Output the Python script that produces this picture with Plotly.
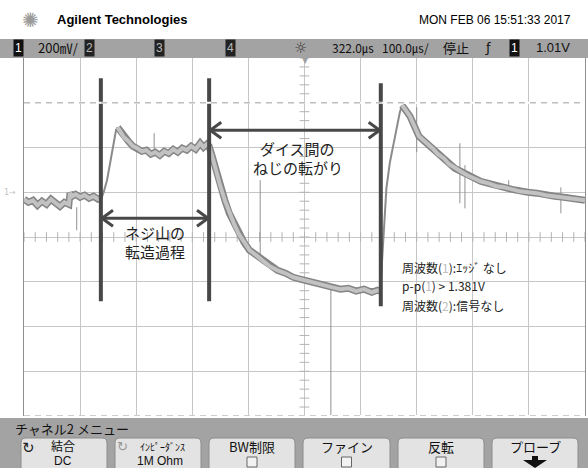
import numpy as np
import plotly.graph_objects as go

# ---------------- data (time in µs, ch1 voltage in V; 200 mV/div, 100 µs/div) ----------------
time_range = [-178, 822]
volt_range = [-1.0, 0.6]
time_tick0 = 22
time_per_div = 100
volt_per_div = 0.2
center_time = 322
center_volt = -0.2

base_t = [-178, -170, -162, -154, -146, -138, -130, -122, -114, -106, -98, -96, -92, -86, -78, -70, -62, -54, -46, -40]
base_v = [-0.031, -0.045, -0.036, -0.058, -0.040, -0.054, -0.031, -0.049, -0.063, -0.045, -0.054, -0.004, -0.018,
          -0.009, -0.022, -0.013, -0.027, -0.018, -0.031, -0.027]

rise1_t = [-40, -36, -30, -24, -18, -14, -11]
rise1_v = [-0.027, 0.000, 0.054, 0.143, 0.232, 0.277, 0.290]

mid_t = [-11, -6, 0, 8, 16, 24, 32, 40, 48, 56, 64, 72, 80, 88, 96, 104, 112, 120, 128, 136, 142, 148, 152, 158,
         164, 172, 180, 188, 196, 204, 214, 224, 236, 248, 260, 274, 288, 302, 316, 330, 344, 358, 372, 386, 400,
         414, 428, 442, 452, 457]
mid_v = [0.290, 0.273, 0.246, 0.228, 0.206, 0.197, 0.183, 0.188, 0.170, 0.179, 0.165, 0.183, 0.174, 0.192, 0.179,
         0.197, 0.188, 0.206, 0.192, 0.219, 0.201, 0.215, 0.206, 0.156, 0.098, 0.027, -0.036, -0.094, -0.139,
         -0.183, -0.223, -0.259, -0.282, -0.308, -0.331, -0.349, -0.362, -0.380, -0.389, -0.398, -0.411, -0.416,
         -0.425, -0.433, -0.429, -0.442, -0.433, -0.447, -0.438, -0.442]

rise2_t = [457, 460, 464, 468, 474, 480, 486, 492, 496]
rise2_v = [-0.442, -0.313, -0.103, 0.018, 0.130, 0.210, 0.295, 0.358, 0.389]

decay_t = [496, 502, 510, 518, 526, 534, 542, 550, 560, 570, 580, 590, 600, 612, 624, 636, 650, 664, 678, 692,
           706, 720, 736, 752, 768, 784, 800, 812, 822]
decay_v = [0.389, 0.366, 0.340, 0.295, 0.250, 0.232, 0.215, 0.197, 0.170, 0.152, 0.125, 0.107, 0.094, 0.076,
           0.063, 0.049, 0.040, 0.027, 0.022, 0.013, 0.004, 0.000, -0.004, -0.013, -0.018, -0.022, -0.027,
           -0.031, -0.036]

spike_t = [-84, 54, 243, 369, 522, 599, 608, 686, 779]
spike_hi = [-0.067, 0.264, 0.054, -0.416, 0.380, 0.219, 0.121, 0.054, 0.022]
spike_lo = [-0.170, 0.188, -0.295, -1.0, 0.179, -0.049, -0.072, 0.018, -0.094]

marker_t = [-41, 152, 458]
marker_top = [0.509, 0.509, 0.487]
marker_bottom = [-0.487, -0.487, -0.509]

arrow_from = [-41, 152]
arrow_to = [152, 458]
arrow_v = [-0.116, 0.277]

label1_lines = ["ネジ山の", "転造過程"]
label1_t = 55
label1_v = [-0.179, -0.264]
label2_lines = ["ダイス間の", "ねじの転がり"]
label2_t = 310
label2_v = [0.197, 0.112]

measure_lines = ["周波数(<span style='color:#c0c0c0'>1</span>):ｴｯｼﾞ なし",
                 "p-p(<span style='color:#c0c0c0'>1</span>) > 1.381V",
                 "周波数(<span style='color:#c0c0c0'>2</span>):信号なし"]
measure_t = 492
measure_v = [-0.335, -0.416, -0.505]

header_title = "Agilent Technologies"
header_date = "MON FEB 06 15:51:33 2017"
status_items = ["200㎷/", "322.0㎲", "100.0㎲/", "停止", "ƒ", "1.01V"]
menu_title = "チャネル2 メニュー"
button_top = ["結合", "ｲﾝﾋﾟｰﾀﾞﾝｽ", "BW制限", "ファイン", "反転", "プローブ"]
button_bottom = ["DC", "1M Ohm", "", "", "", ""]

# ---------------- styling helpers ----------------
JP = "Noto Sans CJK JP, Noto Sans, sans-serif"
SANS = "Liberation Sans, Arial, sans-serif"
W, H = 588, 468
L, R, T, B = 24, 3, 58, 52
PW, PH = W - L - R, H - T - B


def X(px):
    return (px - L) / PW


def Y(py):
    return (H - B - py) / PH


fig = go.Figure()

# center graticule ticks (derived from axis scale)
ht = np.arange(time_range[0], time_range[1] + 0.1, time_per_div / 5)
vt = np.arange(volt_range[0], volt_range[1] + 0.001, volt_per_div / 5)
fig.add_trace(go.Scatter(x=ht, y=[center_volt] * len(ht), mode="markers",
                         marker=dict(symbol="line-ns", size=7, line=dict(color="#b4b4b4", width=1)),
                         hoverinfo="skip"))
fig.add_trace(go.Scatter(x=[center_time] * len(vt), y=vt, mode="markers",
                         marker=dict(symbol="line-ew", size=7, line=dict(color="#b4b4b4", width=1)),
                         hoverinfo="skip"))


def join(*segs):
    xs, ys = [], []
    for sx, sy in segs:
        xs += list(sx) + [None]
        ys += list(sy) + [None]
    return xs, ys


# glitch spikes
sx, sy = join(*[([t, t], [a, b]) for t, a, b in zip(spike_t, spike_hi, spike_lo)])
fig.add_trace(go.Scatter(x=sx, y=sy, mode="lines", line=dict(color="#909090", width=1), hoverinfo="skip"))

# thin rising edges
rx, ry = join((rise1_t, rise1_v), (rise2_t, rise2_v))
fig.add_trace(go.Scatter(x=rx, y=ry, mode="lines", line=dict(color="#8a8a8a", width=2), hoverinfo="skip"))

# noisy band
bx, by = join((base_t, base_v), (mid_t, mid_v), (decay_t, decay_v))
fig.add_trace(go.Scatter(x=bx, y=by, mode="lines", line=dict(color="#858585", width=7), hoverinfo="skip"))
fig.add_trace(go.Scatter(x=bx, y=by, mode="lines", line=dict(color="#c2c2c2", width=4), hoverinfo="skip"))

# annotation marker lines and arrow shafts
mx, my = join(*[([t, t], [a, b]) for t, a, b in zip(marker_t, marker_top, marker_bottom)])
fig.add_trace(go.Scatter(x=mx, y=my, mode="lines", line=dict(color="#484848", width=4), hoverinfo="skip"))
ax_, ay_ = join(*[([a, b], [v, v]) for a, b, v in zip(arrow_from, arrow_to, arrow_v)])
fig.add_trace(go.Scatter(x=ax_, y=ay_, mode="lines", line=dict(color="#484848", width=3), hoverinfo="skip"))

shapes = []
for a, b, v in zip(arrow_from, arrow_to, arrow_v):
    shapes.append(dict(type="path", xsizemode="pixel", ysizemode="pixel", xanchor=a + 2, yanchor=v,
                       xref="x", yref="y", path="M 11,8 L 0,0 L 11,-8",
                       line=dict(color="#484848", width=3)))
    shapes.append(dict(type="path", xsizemode="pixel", ysizemode="pixel", xanchor=b - 2, yanchor=v,
                       xref="x", yref="y", path="M -11,8 L 0,0 L -11,-8",
                       line=dict(color="#484848", width=3)))

# dashed level line at 0.4 V and bottom dashed border
for lv in [0.4, volt_range[0]]:
    shapes.append(dict(type="line", xref="paper", yref="y", x0=0, x1=1, y0=lv, y1=lv,
                       line=dict(color="white", width=2)))
    shapes.append(dict(type="line", xref="paper", yref="y", x0=0, x1=1, y0=lv, y1=lv,
                       line=dict(color="#bdbdbd", width=1.5, dash="6px,5px")))

# top status bar and bottom menu area
shapes.append(dict(type="rect", xref="paper", yref="paper", x0=X(0), x1=X(W), y0=Y(58), y1=Y(39),
                   fillcolor="#a3a3a3", line=dict(width=0), layer="above"))
shapes.append(dict(type="rect", xref="paper", yref="paper", x0=X(0), x1=X(W), y0=Y(H + 2), y1=Y(418),
                   fillcolor="#a3a3a3", line=dict(width=0), layer="above"))


def rrect(x0, y0, x1, y1, r=5):
    p = (f"M {X(x0 + r)},{Y(y0)} L {X(x1 - r)},{Y(y0)} Q {X(x1)},{Y(y0)} {X(x1)},{Y(y0 + r)} "
         f"L {X(x1)},{Y(y1 - r)} Q {X(x1)},{Y(y1)} {X(x1 - r)},{Y(y1)} L {X(x0 + r)},{Y(y1)} "
         f"Q {X(x0)},{Y(y1)} {X(x0)},{Y(y1 - r)} L {X(x0)},{Y(y0 + r)} Q {X(x0)},{Y(y0)} {X(x0 + r)},{Y(y0)} Z")
    return p


buttons = [(21, 107), (115, 201), (209, 295), (303, 390), (398, 484), (492, 578)]
for x0, x1 in buttons:
    shapes.append(dict(type="path", xref="paper", yref="paper", path=rrect(x0, 438, x1, 478),
                       fillcolor="#e3e3e3", line=dict(color="#8c8c8c", width=1), layer="above"))
for i in [2, 3, 4]:
    cx = sum(buttons[i]) / 2
    shapes.append(dict(type="rect", xref="paper", yref="paper", x0=X(cx - 5), x1=X(cx + 5), y0=Y(467),
                       y1=Y(457), fillcolor="#f2f2f2", line=dict(color="#666666", width=1), layer="above"))
# probe button down-arrow
cx6 = sum(buttons[5]) / 2
shapes.append(dict(type="path", xref="paper", yref="paper", layer="above",
                   path=(f"M {X(cx6 - 3)},{Y(456)} L {X(cx6 + 3)},{Y(456)} L {X(cx6 + 3)},{Y(460)} "
                         f"L {X(cx6 + 12)},{Y(460)} L {X(cx6)},{Y(468)} L {X(cx6 - 12)},{Y(460)} "
                         f"L {X(cx6 - 3)},{Y(460)} Z"),
                   fillcolor="#111111", line=dict(width=0)))

anns = []


def ann(text, px, py, size=12, color="black", xanchor="center", family=JP, bg=None, pad=0, ref="paper"):
    d = dict(text=text, x=X(px) if ref == "paper" else px, y=Y(py) if ref == "paper" else py,
             xref=ref, yref=ref, showarrow=False, xanchor=xanchor, yanchor="middle",
             font=dict(size=size, color=color, family=family))
    if bg:
        d.update(bgcolor=bg, borderpad=pad)
    anns.append(d)


# header
ann("✺", 30, 20, size=20, color="#9a9a9a", family="DejaVu Sans")
ann(f"<b>{header_title}</b>", 55, 20, size=13, xanchor="left", family=SANS)
ann(header_date, 573, 20, size=12, xanchor="right", family=SANS)

# status bar
ann("1", 18, 48, size=12, color="white", bg="#111111", pad=1, family=SANS)
ann(status_items[0], 58, 48, size=13, color="#111", family=JP)
ann("2", 89, 48, size=12, color="#bbbbbb", bg="#222222", pad=1, family=SANS)
ann("3", 159, 48, size=12, color="#bbbbbb", bg="#222222", pad=1, family=SANS)
ann("4", 230, 48, size=12, color="#bbbbbb", bg="#222222", pad=1, family=SANS)
ann("☼", 300, 48, size=15, color="#333", family="DejaVu Sans")
ann(status_items[1], 353, 48, size=12, color="#111", family=JP)
ann(status_items[2], 405, 48, size=12, color="#111", family=JP)
ann(status_items[3], 456, 48, size=13, color="#111", family=JP)
ann(status_items[4], 488, 48, size=13, color="#111", family="DejaVu Sans")
ann("1", 514, 48, size=12, color="white", bg="#111111", pad=1, family=SANS)
ann(status_items[5], 553, 48, size=13, color="#111", family=SANS)

# small screen markers
ann("▼", 305, 61, size=8, color="#a0a0a0", family="DejaVu Sans")
ann("1→", 10, 192, size=8, color="#c4c4c4", family="DejaVu Sans")

# bottom menu
ann(menu_title, 13, 428, size=13, xanchor="left", color="#111")
ann("↻", 28, 448, size=15, color="#222", family="DejaVu Sans")
ann(button_top[0], 63, 445, size=12, color="#111")
ann(button_bottom[0], 63, 461, size=12, color="#111", family=SANS)
ann("↻", 122, 446, size=13, color="#999", family="DejaVu Sans")
ann(button_top[1], 162, 446, size=10, color="#111")
ann(button_bottom[1], 160, 461, size=12, color="#111", family=SANS)
for i in [2, 3, 4, 5]:
    ann(button_top[i], sum(buttons[i]) / 2, 446, size=13, color="#111")

# plot-area labels (data coordinates)
for s, v in zip(label1_lines, label1_v):
    ann(s, label1_t, v, size=15, color="#222", ref="data")
for s, v in zip(label2_lines, label2_v):
    ann(s, label2_t, v, size=15, color="#222", ref="data")
for s, v in zip(measure_lines, measure_v):
    ann(s, measure_t, v, size=12, color="#222", xanchor="left", ref="data")

for a in anns:
    if a["xref"] == "data":
        a["xref"], a["yref"] = "x", "y"

fig.update_layout(
    width=W, height=H, margin=dict(l=L, r=R, t=T, b=B),
    paper_bgcolor="white", plot_bgcolor="white", showlegend=False,
    shapes=shapes, annotations=anns,
    xaxis=dict(range=time_range, tick0=time_tick0, dtick=time_per_div, showgrid=True, gridcolor="#c6c6c6",
               gridwidth=1, showticklabels=False, zeroline=False, ticks="", showline=False, fixedrange=True),
    yaxis=dict(range=volt_range, tick0=0, dtick=volt_per_div, showgrid=True, gridcolor="#c6c6c6",
               gridwidth=1, showticklabels=False, zeroline=False, ticks="", showline=True,
               linecolor="#8f8f8f", linewidth=1, mirror=True, fixedrange=True),
)

fig.write_html("out.html", config={"displayModeBar": False},
               post_script="document.body.style.margin='0px';document.body.style.overflow='hidden';")
